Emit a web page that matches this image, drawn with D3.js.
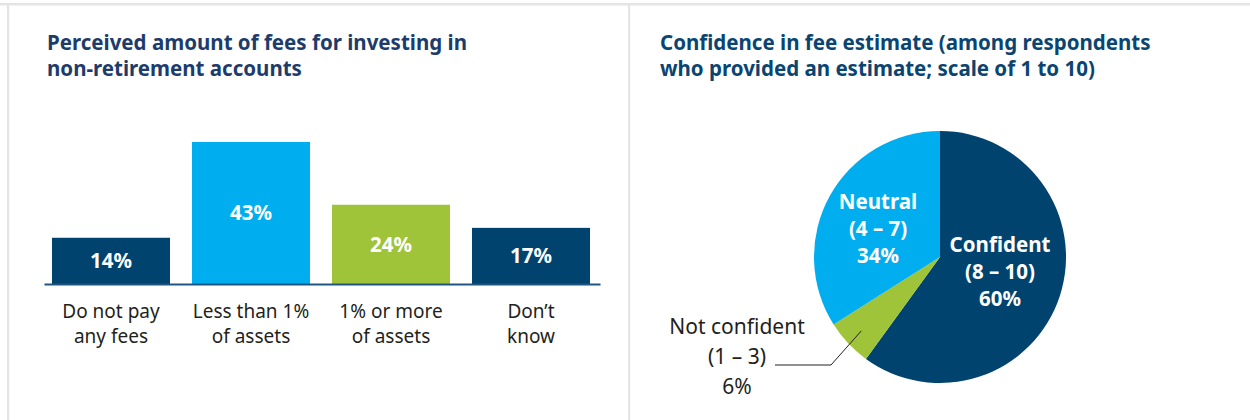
<!DOCTYPE html>
<html>
<head>
<meta charset="utf-8">
<script src="https://cdn.jsdelivr.net/npm/d3@7"></script>
<style>
  html, body { margin: 0; padding: 0; background: #fff; }
  svg { display: block; font-family: "Noto Sans", "Open Sans", sans-serif; }
</style>
</head>
<body>
<svg id="chart" width="1250" height="420"></svg>
<script>
// ---- Data ----
const barTitle = ["Perceived amount of fees for investing in", "non-retirement accounts"];
const barCategories = [["Do not pay", "any fees"], ["Less than 1%", "of assets"], ["1% or more", "of assets"], ["Don\u2019t", "know"]];
const barValues = [14, 43, 24, 17];
const barLabels = ["14%", "43%", "24%", "17%"];
const barColors = ["#00436f", "#00aeef", "#9fc43a", "#00436f"];

const pieTitle = ["Confidence in fee estimate (among respondents", "who provided an estimate; scale of 1 to 10)"];
const pieCategories = ["Confident", "Not confident", "Neutral"];
const pieRanges = ["(8 \u2013 10)", "(1 \u2013 3)", "(4 \u2013 7)"];
const pieValues = [60, 6, 34];
const pieLabels = ["60%", "6%", "34%"];
const pieColors = ["#00436f", "#9fc43a", "#00aeef"];

const svg = d3.select("#chart");

// ---- Frame ----
const frame = svg.append("g");
frame.append("rect").attr("x", 0).attr("y", 3).attr("width", 1250).attr("height", 2.5).attr("fill", "#e4e4e4");
frame.append("rect").attr("x", 7).attr("y", 3).attr("width", 2.2).attr("height", 417).attr("fill", "#e4e4e4");
frame.append("rect").attr("x", 628).attr("y", 3).attr("width", 2.2).attr("height", 417).attr("fill", "#e4e4e4");

// ---- Left: bar chart ----
const left = svg.append("g");
left.append("text")
  .attr("x", 47).attr("y", 50)
  .attr("fill", "#1d3c6c").attr("font-weight", 700).attr("font-size", 20.5)
  .selectAll("tspan").data(barTitle).join("tspan")
  .attr("x", 47).attr("dy", (d, i) => i === 0 ? 0 : 26)
  .text(d => d);

const xb = d3.scaleBand().domain(d3.range(barValues.length)).range([41, 601]).paddingInner(22 / 140).paddingOuter(11 / 140);
const y = d3.scaleLinear().domain([0, 43]).range([284, 142]);

left.selectAll("rect.bar").data(barValues).join("rect")
  .attr("class", "bar")
  .attr("x", (d, i) => xb(i))
  .attr("width", xb.bandwidth())
  .attr("y", d => y(d))
  .attr("height", d => y(0) - y(d))
  .attr("fill", (d, i) => barColors[i]);

left.selectAll("text.val").data(barValues).join("text")
  .attr("class", "val")
  .attr("x", (d, i) => xb(i) + xb.bandwidth() / 2)
  .attr("y", d => (y(d) + y(0)) / 2)
  .attr("dy", "0.35em")
  .attr("text-anchor", "middle")
  .attr("fill", "#fff").attr("font-weight", 700).attr("font-size", 20.5)
  .text((d, i) => barLabels[i]);

// baseline axis
const axis = d3.axisBottom(d3.scaleLinear().domain([0, 1]).range([44, 600])).ticks(0).tickSize(0).tickFormat("");
const axG = left.append("g").attr("transform", `translate(0,${y(0)})`).call(axis);
axG.select(".domain").attr("stroke", "#1f5585").attr("stroke-width", 2);

barCategories.forEach((lines, i) => {
  lines.forEach((s, j) => {
    left.append("text")
      .attr("class", "cat")
      .attr("text-anchor", "middle")
      .attr("fill", "#231f20").attr("font-size", 19)
      .attr("x", xb(i) + xb.bandwidth() / 2)
      .attr("y", 318 + j * 24.5)
      .text(s);
  });
});

// ---- Right: pie chart ----
const right = svg.append("g");
right.append("text")
  .attr("x", 660).attr("y", 50)
  .attr("fill", "#0a4572").attr("font-weight", 700).attr("font-size", 20.5)
  .selectAll("tspan").data(pieTitle).join("tspan")
  .attr("x", 660).attr("dy", (d, i) => i === 0 ? 0 : 26)
  .text(d => d);

const cx = 940, cy = 257, r = 126;
const pie = d3.pie().sort(null).value(d => d);
const arcs = pie(pieValues);
const arc = d3.arc().innerRadius(0).outerRadius(r);
const pg = right.append("g").attr("transform", `translate(${cx},${cy})`);
pg.selectAll("path").data(arcs).join("path")
  .attr("d", arc)
  .attr("fill", (d, i) => pieColors[i]);

// inside labels (Confident, Neutral)
const inside = [
  { i: 0, x: 60, y: -12 },
  { i: 2, x: -62, y: -55 }
];
inside.forEach(o => {
  const t = pg.append("text")
    .attr("text-anchor", "middle")
    .attr("fill", "#fff").attr("font-weight", 700).attr("font-size", 20.5)
    .attr("y", o.y);
  [pieCategories[o.i], pieRanges[o.i], pieLabels[o.i]].forEach((s, j) => {
    t.append("tspan").attr("x", o.x).attr("dy", j === 0 ? "0.35em" : 27).text(s);
  });
});

// outside label (Not confident) with leader line
const small = arcs[1];
const midA = (small.startAngle + small.endAngle) / 2;
const anchor = [Math.sin(midA) * (r - 18), -Math.cos(midA) * (r - 18)];
pg.append("polyline")
  .attr("points", [[-165, 108], [-109, 108], anchor].map(p => p.join(",")).join(" "))
  .attr("fill", "none").attr("stroke", "#231f20").attr("stroke-width", 1);
const ot = pg.append("text")
  .attr("text-anchor", "middle")
  .attr("fill", "#231f20").attr("font-size", 21)
  .attr("y", 70);
[pieCategories[1], pieRanges[1], pieLabels[1]].forEach((s, j) => {
  ot.append("tspan").attr("x", -203).attr("dy", j === 0 ? "0.35em" : 30).text(s);
});
</script>
</body>
</html>
